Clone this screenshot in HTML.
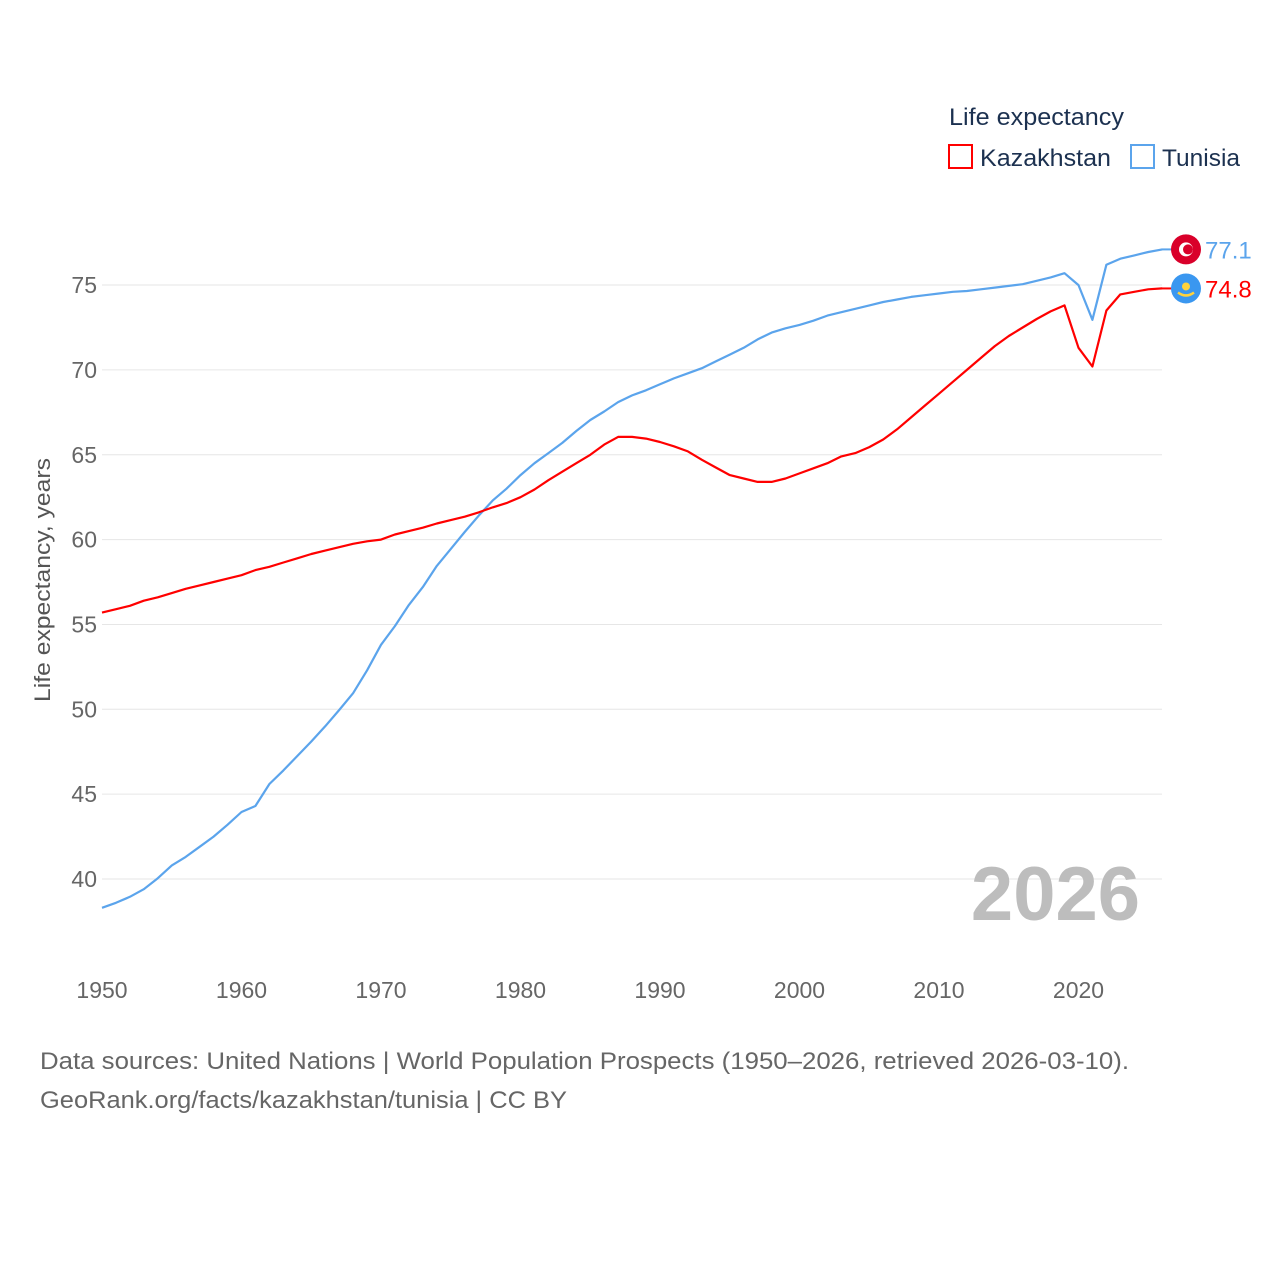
<!DOCTYPE html>
<html><head><meta charset="utf-8">
<style>
body{margin:0;background:#fff;font-family:"Liberation Sans",sans-serif;}
</style></head>
<body>
<svg id="chart" width="1280" height="1280" xmlns="http://www.w3.org/2000/svg" font-family="Liberation Sans, sans-serif">
<rect width="1280" height="1280" fill="#fff"/>
<g id="grid"></g>
<g id="yticks"></g>
<g id="xticks"></g>
<text transform="translate(50,580) rotate(-90)" text-anchor="middle" font-size="22" fill="#555" textLength="244" lengthAdjust="spacingAndGlyphs">Life expectancy, years</text>
<text x="1140" y="920" text-anchor="end" font-size="76" font-weight="bold" fill="#bdbdbd">2026</text>
<g id="lines"></g>
<g>
<text x="949" y="125" font-size="24" fill="#1c3150" textLength="175" lengthAdjust="spacingAndGlyphs">Life expectancy</text>
<rect x="949" y="145" width="23" height="23" fill="none" stroke="#ff0000" stroke-width="2"/>
<text x="980" y="166" font-size="24" fill="#1c3150" textLength="131" lengthAdjust="spacingAndGlyphs">Kazakhstan</text>
<rect x="1131" y="145" width="23" height="23" fill="none" stroke="#5ba4ec" stroke-width="2"/>
<text x="1162" y="166" font-size="24" fill="#1c3150" textLength="78" lengthAdjust="spacingAndGlyphs">Tunisia</text>
</g>
<g id="ends"></g>
<text x="40" y="1069" font-size="24" fill="#666" textLength="1089" lengthAdjust="spacingAndGlyphs">Data sources: United Nations | World Population Prospects (1950–2026, retrieved 2026-03-10).</text>
<text x="40" y="1108" font-size="24" fill="#666" textLength="527" lengthAdjust="spacingAndGlyphs">GeoRank.org/facts/kazakhstan/tunisia | CC BY</text>
</svg>
<script>
const years=[];for(let y=1950;y<=2026;y++)years.push(y);
const kazakhstan=[55.7,55.9,56.1,56.4,56.6,56.85,57.1,57.3,57.5,57.7,
57.9,58.2,58.4,58.65,58.9,59.15,59.35,59.55,59.75,59.9,
60.0,60.3,60.5,60.7,60.95,61.15,61.35,61.6,61.9,62.15,
62.5,62.95,63.5,64.0,64.5,65.0,65.6,66.05,66.05,65.95,
65.75,65.5,65.2,64.7,64.25,63.8,63.6,63.4,63.4,63.6,
63.9,64.2,64.5,64.9,65.1,65.45,65.9,66.5,67.2,67.9,
68.6,69.3,70.0,70.7,71.4,72.0,72.5,73.0,73.45,73.8,
71.3,70.2,73.5,74.45,74.6,74.75,74.8];
const tunisia=[38.3,38.6,38.95,39.4,40.05,40.8,41.3,41.9,42.5,43.2,
43.95,44.3,45.6,46.4,47.25,48.1,49.0,49.95,50.95,52.3,
53.8,54.9,56.15,57.2,58.45,59.45,60.45,61.4,62.3,63.0,
63.8,64.5,65.1,65.7,66.4,67.05,67.55,68.1,68.5,68.8,
69.15,69.5,69.8,70.1,70.5,70.9,71.3,71.8,72.2,72.45,
72.65,72.9,73.2,73.4,73.6,73.8,74.0,74.15,74.3,74.4,
74.5,74.6,74.65,74.75,74.85,74.95,75.05,75.25,75.45,75.7,
75.0,72.95,76.2,76.55,76.75,76.95,77.1];
const yTicks=[40,45,50,55,60,65,70,75];
const xTicks=[1950,1960,1970,1980,1990,2000,2010,2020];
const X=y=>102+(y-1950)*13.95;
const Y=v=>879-(v-40)*16.97;
const NS="http://www.w3.org/2000/svg";
function mk(t,a,p){const e=document.createElementNS(NS,t);for(const k in a)e.setAttribute(k,a[k]);p.appendChild(e);return e;}
const grid=document.getElementById('grid'),yt=document.getElementById('yticks'),xt=document.getElementById('xticks');
yTicks.forEach(v=>{
 const l=mk('line',{x1:102,x2:1162,y1:Y(v),y2:Y(v),stroke:'#e6e6e6','stroke-width':1},grid);
 
 
 const t=mk('text',{x:97,y:Y(v)+8,'text-anchor':'end','font-size':23,fill:'#666'},yt);t.textContent=v;
 
 
});
xTicks.forEach(v=>{
 const t=mk('text',{x:X(v),y:998,'text-anchor':'middle','font-size':23,fill:'#666'},xt);t.textContent=v;
 
 
});
const lines=document.getElementById('lines');
function draw(data,color,name){
 const d=data.map((v,i)=>(i?'L':'M')+X(years[i]).toFixed(1)+','+Y(v).toFixed(1)).join('');
 const p=mk('path',{d:d,fill:'none',stroke:color,'stroke-width':2.2,'stroke-linejoin':'round'},lines);
 
 
}
draw(tunisia,'#5ba4ec','tunisia');
draw(kazakhstan,'#ff0000','kazakhstan');
const ends=document.getElementById('ends');
function endLabel(data,color,flag,name){
 const v=data[data.length-1],y=Y(v);
 mk('line',{x1:1162,x2:1172,y1:y,y2:y,stroke:color,'stroke-width':2},ends);
 const c=mk('circle',{cx:1186,cy:y,r:15,fill:flag},ends);
 
 
 if(name==='tunisia'){mk('circle',{cx:1186,cy:y,r:7,fill:'#fff'},ends);mk('circle',{cx:1188,cy:y,r:5,fill:flag},ends);}
 else{mk('circle',{cx:1186,cy:y-2,r:4,fill:'#ffd23c'},ends);mk('path',{d:`M1178 ${y+4} Q1186 ${y+10} 1194 ${y+4}`,stroke:'#ffd23c','stroke-width':2.5,fill:'none'},ends);}
 const t=mk('text',{x:1205,y:y+9,'font-size':24,fill:color},ends);t.textContent=v.toFixed(1);
 
 
}
endLabel(tunisia,'#5ba4ec','#d9002a','tunisia');
endLabel(kazakhstan,'#ff0000','#3a97f0','kazakhstan');
</script>
</body></html>
